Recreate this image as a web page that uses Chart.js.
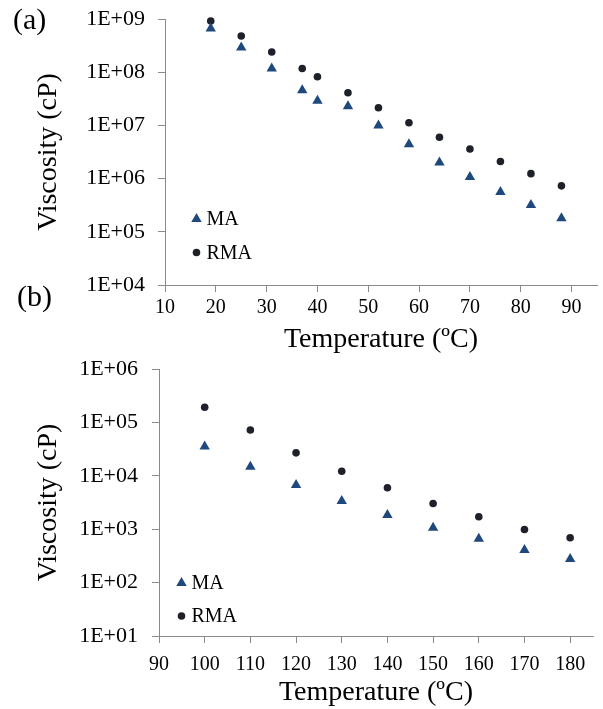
<!DOCTYPE html>
<html><head><meta charset="utf-8">
<script src="https://cdn.jsdelivr.net/npm/chart.js@4.4.1/dist/chart.umd.min.js"></script>
<style>
html,body{margin:0;padding:0;background:#fff;width:603px;height:709px;overflow:hidden;}
body{position:relative;}
canvas{position:absolute;left:0;}
.lbl{position:absolute;font-family:"Liberation Serif";font-size:30px;line-height:30px;color:#000;}
</style></head><body>
<canvas id="ca" width="603" height="358" style="top:0px"></canvas>
<canvas id="cb" width="603" height="359" style="top:350px"></canvas>
<div class="lbl" style="left:13px;top:4px">(a)</div>
<div class="lbl" style="left:17px;top:281px">(b)</div>
<script>
// ---- data ----
const seriesNames = ['MA', 'RMA'];
const tempA = [19, 25, 31, 37, 40, 46, 52, 58, 64, 70, 76, 82, 88];
const maA   = [6.6e8, 2.9e8, 1.17e8, 4.6e7, 2.9e7, 2.3e7, 1.0e7, 4.4e6, 2.0e6, 1.07e6, 5.6e5, 3.2e5, 1.8e5];
const rmaA  = [9.2e8, 4.8e8, 2.4e8, 1.17e8, 8.2e7, 4.1e7, 2.15e7, 1.12e7, 6.0e6, 3.6e6, 2.1e6, 1.24e6, 7.3e5];
const tempB = [100, 110, 120, 130, 140, 150, 160, 170, 180];
const maB   = [3.53e4, 1.47e4, 6.7e3, 3.37e3, 1.84e3, 1.07e3, 6.6e2, 4.1e2, 2.77e2];
const rmaB  = [1.92e5, 7.2e4, 2.69e4, 1.22e4, 5.97e3, 3.03e3, 1.71e3, 9.9e2, 6.9e2];
const xTicksA = [10, 20, 30, 40, 50, 60, 70, 80, 90];
const yTicksA = [1e4, 1e5, 1e6, 1e7, 1e8, 1e9];
const xTicksB = [90, 100, 110, 120, 130, 140, 150, 160, 170, 180];
const yTicksB = [1e1, 1e2, 1e3, 1e4, 1e5, 1e6];
const xTitle = 'Temperature (ºC)';
const yTitle = 'Viscosity (cP)';

// ---- styles ----
const FONT = 'Liberation Serif';
const AXIS = '#8a8a8a';
const C_MA = '#1f497d';
const C_RMA = '#1e2129';

function fmtE(v) {
  const e = Math.round(Math.log10(v));
  return '1E+' + String(e).padStart(2, '0');
}

const inLegend = {
  id: 'inLegend',
  afterDraw(chart, args, opts) {
    const ctx = chart.ctx, ca = chart.chartArea;
    ctx.save();
    ctx.font = '20px "' + FONT + '"';
    ctx.textBaseline = 'middle';
    ctx.textAlign = 'left';
    chart.data.datasets.forEach((ds, i) => {
      const x = ca.left + opts.x;
      const y = ca.top + opts.y[i];
      ctx.fillStyle = ds.backgroundColor;
      ctx.beginPath();
      if (ds.pointStyle === 'triangle') {
        const r = ds.pointRadius;
        let rad = 0;
        ctx.moveTo(x + Math.sin(rad) * r, y - Math.cos(rad) * r);
        rad += 2 * Math.PI / 3;
        ctx.lineTo(x + Math.sin(rad) * r, y - Math.cos(rad) * r);
        rad += 2 * Math.PI / 3;
        ctx.lineTo(x + Math.sin(rad) * r, y - Math.cos(rad) * r);
        ctx.closePath();
      } else {
        ctx.arc(x, y, ds.pointRadius, 0, Math.PI * 2);
      }
      ctx.fill();
      ctx.fillStyle = '#000';
      ctx.fillText(ds.label, x + opts.textGap, y + 1);
    });
    ctx.restore();
  }
};

function build(id, temps, ma, rma, xTicks, yTicks, xMax, L) {
  const toPts = (xs, ys) => xs.map((x, i) => ({x: x, y: ys[i]}));
  return new Chart(document.getElementById(id), {
    type: 'scatter',
    data: {
      datasets: [
        {label: seriesNames[0], data: toPts(temps, ma), pointStyle: 'triangle', pointRadius: 6, clip: false,
         backgroundColor: C_MA, borderWidth: 0, pointBorderWidth: 0, pointHoverRadius: 6},
        {label: seriesNames[1], data: toPts(temps, rma), pointStyle: 'circle', pointRadius: 3.8, clip: false,
         backgroundColor: C_RMA, borderWidth: 0, pointBorderWidth: 0, pointHoverRadius: 3.8}
      ]
    },
    options: {
      responsive: false,
      animation: false,
      devicePixelRatio: 1,
      events: [],
      layout: {padding: {top: L.top, right: L.right, left: 0, bottom: 0}},
      plugins: {
        legend: {display: false},
        tooltip: {enabled: false},
        inLegend: {x: L.legX, y: L.legY, textGap: 10}
      },
      scales: {
        x: {
          type: 'linear', min: xTicks[0], max: xMax,
          afterBuildTicks: s => { s.ticks = xTicks.map(v => ({value: v})); },
          afterFit: s => { s.height = L.xH; s.paddingLeft = 0; s.paddingRight = 0; },
          ticks: {font: {family: FONT, size: 20}, color: '#000', padding: L.xPad, autoSkip: false, maxRotation: 0},
          grid: {display: true, drawOnChartArea: false, drawTicks: true, tickLength: 7, color: AXIS, lineWidth: 1},
          border: {display: true, color: AXIS, width: 1},
          title: {display: true, text: xTitle, font: {family: FONT, size: 28}, color: '#000', padding: {top: 0, bottom: L.tPadB}}
        },
        y: {
          type: 'logarithmic', min: yTicks[0], max: yTicks[yTicks.length - 1],
          afterBuildTicks: s => { s.ticks = yTicks.map(v => ({value: v})); },
          afterFit: s => { s.width = L.yW; s.paddingTop = 0; s.paddingBottom = 0; },
          ticks: {font: {family: FONT, size: 22}, color: '#000', padding: L.yPad, autoSkip: false,
                  callback: v => fmtE(v)},
          grid: {display: true, drawOnChartArea: false, drawTicks: true, tickLength: 7, color: AXIS, lineWidth: 1},
          border: {display: true, color: AXIS, width: 1},
          title: {display: true, text: yTitle, font: {family: FONT, size: 28}, color: '#000', padding: {top: 32, bottom: 0}}
        }
      }
    },
    plugins: [inLegend]
  });
}

build('ca', tempA, maA, rmaA, xTicksA, yTicksA, 95,
  {top: 19, right: 4, xH: 73, yW: 165, xPad: 4, yPad: 13, tPadB: 2, legX: 31.5, legY: [200, 233.5]});
build('cb', tempB, maB, rmaB, xTicksB, yTicksB, 185,
  {top: 19, right: 10, xH: 73, yW: 159, xPad: 10, yPad: 14, tPadB: 0, legX: 22.5, legY: [214, 247]});
</script>
</body></html>
